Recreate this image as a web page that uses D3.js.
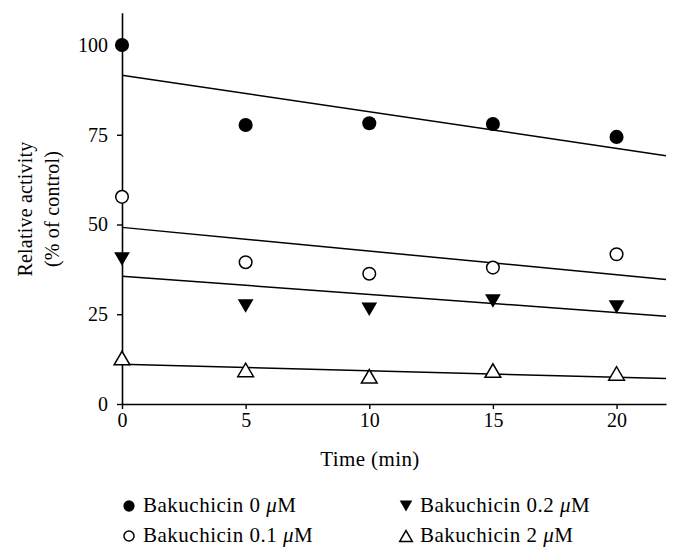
<!DOCTYPE html>
<html>
<head>
<meta charset="utf-8">
<script src="https://cdn.jsdelivr.net/npm/d3@7"></script>
<style>
  html, body { margin: 0; padding: 0; background: #fff; }
  svg { display: block; }
  text { font-family: "Liberation Serif", "Times New Roman", serif; fill: #000; }
</style>
</head>
<body>
<svg id="chart" width="680" height="555"></svg>
<script>
// ---- Data ----
const times = [0, 5, 10, 15, 20];
const seriesNames = ["Bakuchicin 0", "Bakuchicin 0.1", "Bakuchicin 0.2", "Bakuchicin 2"];
const vals0 = [100, 77.7, 78.2, 78.0, 74.4];
const vals01 = [57.7, 39.5, 36.3, 38.0, 41.7];
const vals02 = [40.4, 27.3, 26.4, 28.7, 27.0];
const vals2 = [12.8, 9.5, 7.7, 9.3, 8.5];
// linear fit parameters (intercept, slope per min)
const fitIntercepts = [91.6, 49.2, 35.6, 11.05];
const fitSlopes = [-1.02, -0.66, -0.506, -0.18];
const xTicks = [0, 5, 10, 15, 20];
const yTicks = [0, 25, 50, 75, 100];
const xDomain = [0, 22];
const yDomain = [0, 109];

const seriesValues = [vals0, vals01, vals02, vals2];
const markerTypes = ["filledCircle", "openCircle", "filledDown", "openUp"];

// ---- Layout ----
const svg = d3.select("#chart");
const x = d3.scaleLinear().domain(xDomain).range([122, 666]);
const y = d3.scaleLinear().domain(yDomain).range([404, 404 - 109 * 3.59]);

// Axes
const xAxis = d3.axisBottom(x).tickValues(xTicks).tickSize(5).tickSizeOuter(0).tickPadding(4);
const yAxis = d3.axisLeft(y).tickValues(yTicks).tickSize(5).tickSizeOuter(0).tickPadding(9);

const gx = svg.append("g").attr("transform", `translate(0,${y(0)})`).call(xAxis);
const gy = svg.append("g").attr("transform", `translate(${x(0)},0)`).call(yAxis);
[gx, gy].forEach(g => {
  g.select(".domain").attr("stroke", "#000").attr("stroke-width", 1.6);
  g.selectAll(".tick line").attr("stroke", "#000").attr("stroke-width", 1.4);
  g.selectAll(".tick text").attr("font-family", "Liberation Serif, serif").attr("font-size", 20).attr("fill", "#000");
});

// Fit lines
const lineGen = d3.line().x(d => x(d[0])).y(d => y(d[1]));
fitIntercepts.forEach((b, i) => {
  const m = fitSlopes[i];
  const pts = xDomain.map(t => [t, b + m * t]);
  svg.append("path").attr("d", lineGen(pts))
    .attr("fill", "none").attr("stroke", "#000").attr("stroke-width", 1.5);
});

// Marker drawing
function drawMarker(g, type, cx, cy, size) {
  if (type === "filledCircle") {
    g.append("circle").attr("cx", cx).attr("cy", cy).attr("r", size * 0.47).attr("fill", "#000");
  } else if (type === "openCircle") {
    g.append("circle").attr("cx", cx).attr("cy", cy).attr("r", size * 0.42)
      .attr("fill", "#fff").attr("stroke", "#000").attr("stroke-width", 1.5);
  } else if (type === "filledDown") {
    const w = size * 1.05, h = size * 0.9;
    g.append("path").attr("d", `M${cx - w / 2},${cy - h / 2}L${cx + w / 2},${cy - h / 2}L${cx},${cy + h / 2}Z`)
      .attr("fill", "#000");
  } else if (type === "openUp") {
    const w = size * 1.05, h = size * 0.9;
    g.append("path").attr("d", `M${cx - w / 2},${cy + h / 2}L${cx + w / 2},${cy + h / 2}L${cx},${cy - h / 2}Z`)
      .attr("fill", "#fff").attr("stroke", "#000").attr("stroke-width", 1.5).attr("stroke-linejoin", "miter");
  }
}

const gm = svg.append("g");
seriesValues.forEach((vals, i) => {
  vals.forEach((v, j) => drawMarker(gm, markerTypes[i], x(times[j]), y(v), 15));
});

// Axis titles
svg.append("text").attr("x", 370).attr("y", 466).attr("text-anchor", "middle")
  .attr("font-size", 21).attr("letter-spacing", 0.4).text("Time (min)");
svg.append("text").attr("transform", "translate(32,209) rotate(-90)").attr("text-anchor", "middle")
  .attr("font-size", 20).attr("letter-spacing", 0.2).text("Relative activity");
svg.append("text").attr("transform", "translate(59,209) rotate(-90)").attr("text-anchor", "middle")
  .attr("font-size", 20).attr("letter-spacing", 0.2).text("(% of control)");

// Legend
const legendPos = [[129, 506], [129, 536], [406, 506], [406, 536]];
const lg = svg.append("g");
seriesNames.forEach((name, i) => {
  const [lx, ly] = legendPos[i];
  drawMarker(lg, markerTypes[i], lx, ly, 12);
  const t = lg.append("text").attr("x", lx + 14).attr("y", ly + 6)
    .attr("font-size", 21).attr("letter-spacing", 0.5);
  t.append("tspan").text(name + " ");
  t.append("tspan").attr("font-style", "italic").text("\u03bc");
  t.append("tspan").text("M");
});
</script>
</body>
</html>
